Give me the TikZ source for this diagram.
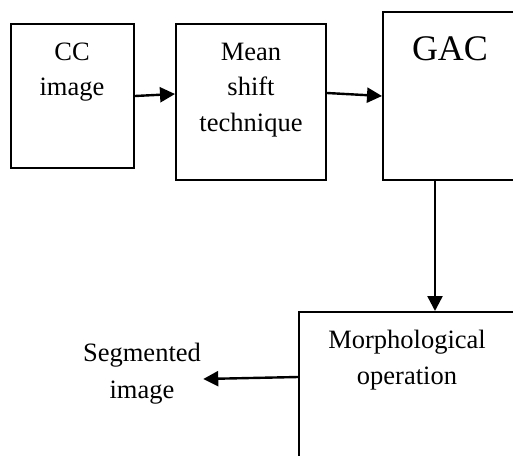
\documentclass[tikz,border=0pt]{standalone}
\usepackage{fontspec}
\setmainfont{Liberation Serif}
\usetikzlibrary{arrows.meta}

\begin{document}
\begin{tikzpicture}[x = 0.5pt, y = -0.5pt,
    box/.style = {shape = rectangle, draw, line width = 1pt, inner sep = 0pt},
    txt/.style = {align = center, inner sep = 1pt, font = \fontsize{13.25}{17.75}\selectfont},
    flow/.style = {line width = 1.2pt, -{Triangle[length = 7.5pt, width = 7.5pt]}}]
    \clip (0,0) rectangle (513,455);
    \node[box, minimum width = 61.5pt, minimum height = 72pt] (CC) at (72.5,96) {};
    \node[box, minimum width = 75pt, minimum height = 78pt] (MS) at (251,102) {};
    \node[box, minimum width = 78.5pt, minimum height = 84pt] (GAC) at (461.5,96) {};
    \node[box, minimum width = 120.5pt, minimum height = 84pt] (MO) at (419.5,396) {};
    \node[txt] (CCT) at (72,72) {CC\\image};
    \node[txt] (MST) at (251,90) {Mean\\shift\\technique};
    \node[txt, font = \fontsize{18}{22}\selectfont] (GACT) at (450,49) {GAC};
    \node[txt] (MOT) at (407,360) {Morphological\\operation};
    \node[txt, font = \fontsize{13.25}{18.5}\selectfont] (SEG) at (142,374) {Segmented\\image};
    \coordinate (D) at (435,250);
    \draw[flow] (CC.east) -- ([yshift = 4pt]MS.west);
    \draw[flow] ([yshift = 4.5pt]MS.east) -- (GAC.west);
    \draw[flow] (GAC.south -| D) -- (MO.north -| D);
    \draw[flow] ([yshift = 9.5pt]MO.west) -- ([yshift = -2.5pt]SEG.east);
\end{tikzpicture}
\end{document}
